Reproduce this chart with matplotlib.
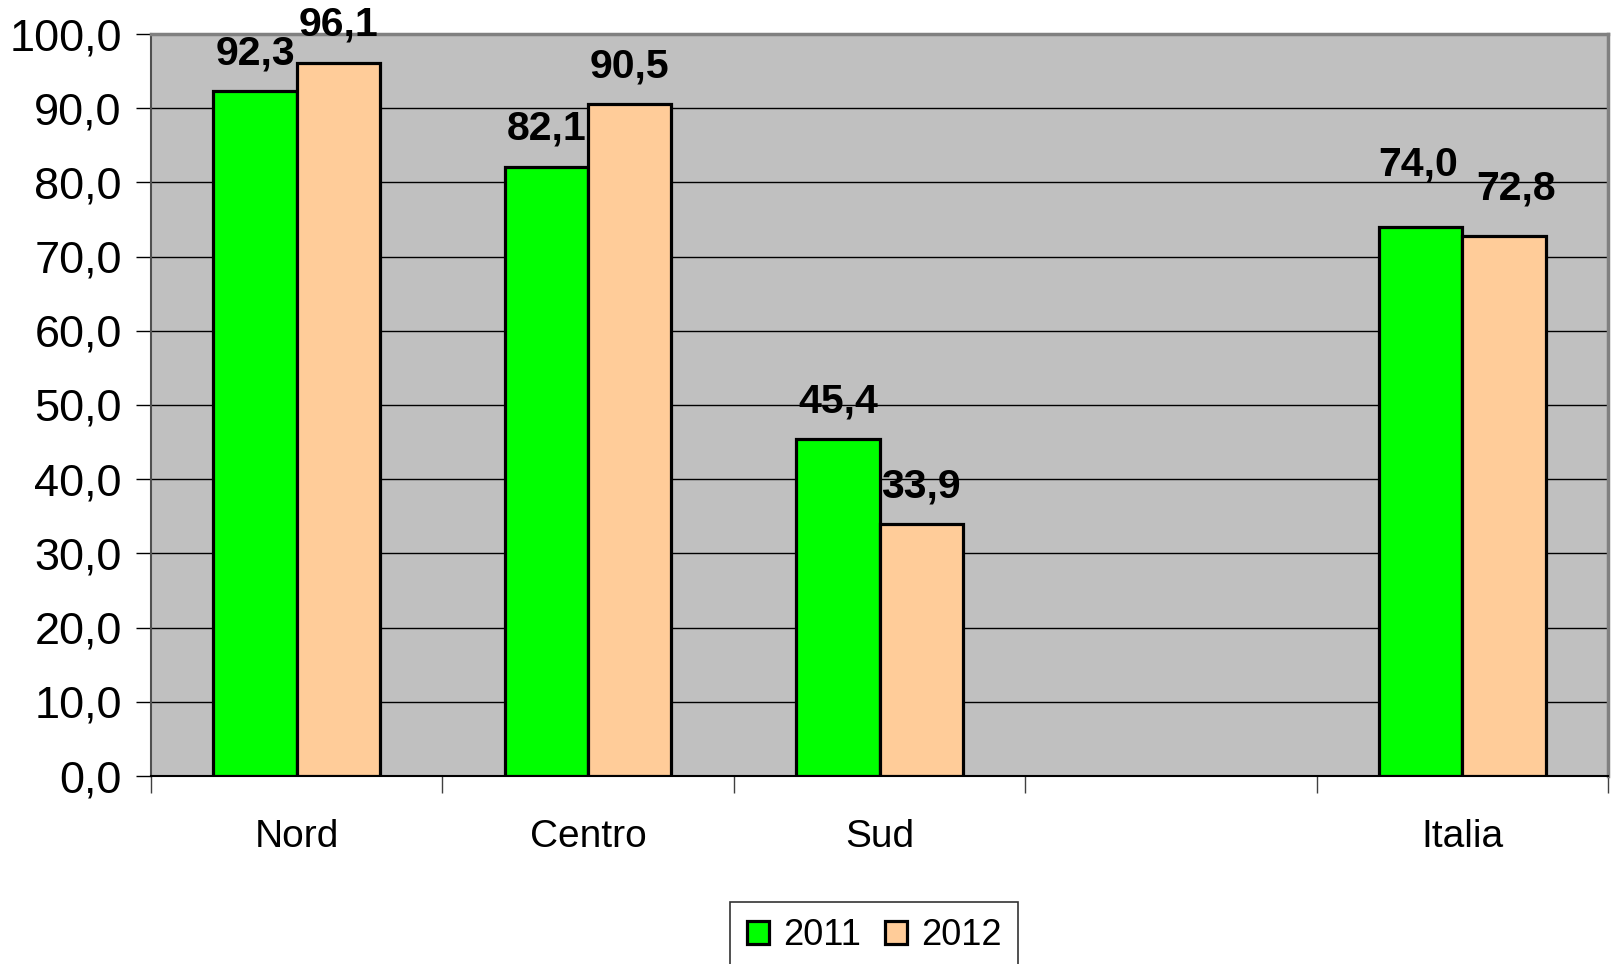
import numpy as np
import matplotlib
matplotlib.use("Agg")
import matplotlib.pyplot as plt
from matplotlib.ticker import FuncFormatter, FixedLocator

# data
categories = ["Nord", "Centro", "Sud", "", "Italia"]
val_2011 = [92.3, 82.1, 45.4, np.nan, 74.0]
val_2012 = [96.1, 90.5, 33.9, np.nan, 72.8]
series_names = ["2011", "2012"]

plt.rcParams['font.family'] = ['Liberation Sans', 'DejaVu Sans']

fig = plt.figure(figsize=(16.11, 9.64), dpi=100)
ax = fig.add_axes([151 / 1611, 1 - 776 / 964, 1457 / 1611, 742 / 964])
ax.set_facecolor('#C0C0C0')

x = np.arange(len(categories)) + 0.5
w = 1 / 3.5
b1 = ax.bar(x - w / 2, val_2011, w, color='#00FF00', edgecolor='black', linewidth=2.3,
            label=series_names[0], zorder=3)
b2 = ax.bar(x + w / 2, val_2012, w, color='#FFCC99', edgecolor='black', linewidth=2.3,
            label=series_names[1], zorder=3)

def fmt(v):
    return f"{v:.1f}".replace('.', ',')

# label nudges (points) for the Italia group, placed higher in the original
nudge = {(4, 0): (-2, 37), (4, 1): (9, 26)}
for s, (bars, vals) in enumerate([(b1, val_2011), (b2, val_2012)]):
    for i, (r, v) in enumerate(zip(bars, vals)):
        if np.isnan(v):
            continue
        dx, dy = nudge.get((i, s), (0, 19.5))
        ax.annotate(fmt(v), (r.get_x() + r.get_width() / 2, v), xytext=(dx, dy),
                    textcoords='offset points', ha='center', va='baseline',
                    fontsize=29.5, fontweight='bold', annotation_clip=False, zorder=5)

ax.set_xlim(0, len(categories))
ax.set_ylim(0, 100)
ax.set_yticks(np.arange(0, 101, 10))
ax.yaxis.set_major_formatter(FuncFormatter(lambda v, p: fmt(v)))
ax.grid(axis='y', color='black', linewidth=1, zorder=1)
ax.set_axisbelow(True)

ax.xaxis.set_major_locator(FixedLocator(np.arange(len(categories) + 1)))
ax.xaxis.set_minor_locator(FixedLocator(x))
ax.set_xticklabels([])
ax.set_xticklabels(categories, minor=True)
ax.tick_params(axis='x', which='major', direction='out', length=12, width=1, color='#404040')
ax.tick_params(axis='x', which='minor', length=0, pad=31, labelsize=28)
ax.tick_params(axis='y', direction='out', length=11, width=1, pad=10, labelsize=32.5)

for side in ['top', 'right']:
    ax.spines[side].set_color('#808080')
    ax.spines[side].set_linewidth(2.5)
ax.spines['left'].set_color('#505050')
ax.spines['left'].set_linewidth(1.5)
ax.spines['bottom'].set_color('black')
ax.spines['bottom'].set_linewidth(1.5)

leg = fig.legend(loc='upper center', bbox_to_anchor=(874 / 1611, 1 - 902 / 964), ncol=2,
                 fontsize=26, frameon=True, fancybox=False, edgecolor='black',
                 handlelength=0.63, handleheight=0.63, handletextpad=0.37,
                 columnspacing=0.66, borderpad=0.45, borderaxespad=0)
leg.get_frame().set_linewidth(1.2)

fig.savefig("out.png", dpi=100)
